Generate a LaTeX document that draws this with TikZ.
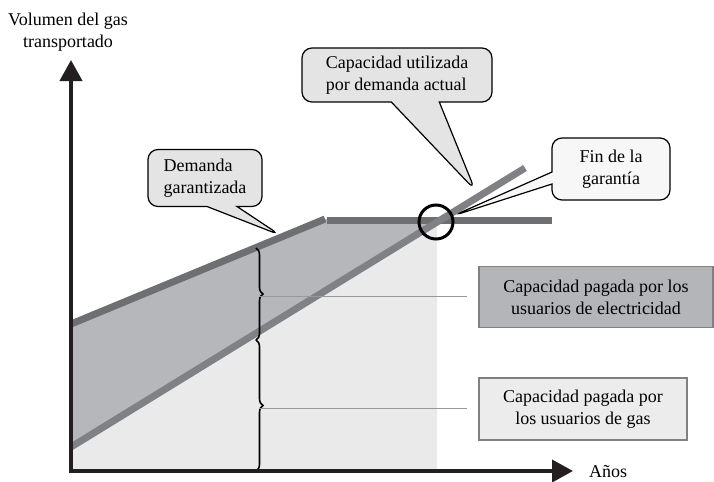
\documentclass[tikz,border=0pt]{standalone}
\usepackage{fontspec}
\setmainfont{Liberation Serif}
\usetikzlibrary{arrows.meta,shapes.callouts,decorations.pathreplacing}
\definecolor{bandgray}{RGB}{110,111,114}
\definecolor{linegray}{RGB}{128,129,133}
\definecolor{darkfill}{RGB}{182,183,186}
\definecolor{lightfill}{RGB}{233,234,233}
\definecolor{boxdark}{RGB}{180,181,184}
\definecolor{boxlight}{RGB}{236,236,236}
\definecolor{bubblefill}{RGB}{228,228,228}
\definecolor{axisblack}{RGB}{35,31,32}
\tikzset{
  txt/.style={font=\fontsize{9}{11}\selectfont, align=center},
  bubble/.style={txt, rectangle callout, draw=black, line width=0.6pt, fill=bubblefill, rounded corners=5pt, inner sep=0pt},
  legendbox/.style={txt, draw=gray, line width=0.6pt, inner sep=0pt},
  axis/.style={draw=axisblack, line width=2pt, -{Triangle[length=10.5pt,width=11pt]}},
  band/.style={line width=3.5pt, draw=bandgray},
  leader/.style={draw=gray!80, line width=0.5pt, shorten >=5.5pt},
  curly/.style={decorate, decoration={brace, amplitude=3.5pt}, line width=0.8pt},
}
\begin{document}
\begin{tikzpicture}[x=0.5pt,y=-0.5pt]
\useasboundingbox (0,0) rectangle (714,482);
\coordinate (o) at (71,471);
\coordinate (ytop) at (71,60);
\coordinate (xend) at (573,471);
\coordinate (gl) at (71,324);
\coordinate (gk) at (325,219);
\coordinate (gr) at (552,220);
\coordinate (dl) at (71,447);
\coordinate (dr) at (525,168);
\fill[lightfill] (dl) -- (437,222) -- (437,471) -- (o) -- cycle;
\fill[darkfill] (gl) -- (gk) -- (442,219) -- (dl) -- cycle;
\draw[band] (gl) -- (gk);
\draw[band] (327,220) -- (gr);
\draw[line width=3.5pt, draw=linegray] (dl) -- (dr);
\coordinate (bt) at (256,248);
\coordinate (bm) at (256,340);
\coordinate (bb) at (256,471);
\coordinate (tipA) at (259,296);
\coordinate (tipB) at (259,408);
\draw[curly] (bt) -- (bm);
\draw[curly] (bm) -- (bb);
\draw[axis] (71,473) -- (ytop);
\draw[axis] (69,471) -- (xend);
\node[circle, draw=black, line width=1.5pt, minimum size=17pt, inner sep=0pt] (cross) at (436,222) {};
\node[txt] (ylab) at (68,32) {Volumen del gas\\transportado};
\node[txt, anchor=west] (xlab) at (582,472) {Años};
\node[bubble, align=left, minimum width=57pt, minimum height=28.5pt, callout pointer width=15pt, callout absolute pointer={(280,235)}] (gar) at (205,178) {Demanda\\garantizada};
\node[bubble, align=left, minimum width=95pt, minimum height=27pt, callout pointer width=24pt, callout absolute pointer={(475,190)}] (util) at (397,75) {Capacidad utilizada\\por demanda actual};
\node[bubble, fill=white!97!black, minimum width=59pt, minimum height=31pt, callout pointer width=6pt, callout absolute pointer={(cross.20)}] (fin) at (611,169) {Fin de la\\garantía};
\node[legendbox, fill=boxdark, minimum width=117pt, minimum height=30.5pt] (elec) at (596,297) {Capacidad pagada por los\\usuarios de electricidad};
\node[legendbox, fill=boxlight, minimum width=104pt, minimum height=31pt] (gas) at (583,409) {Capacidad pagada por\\los usuarios de gas};
\draw[leader] (tipA) -- (tipA -| elec.west);
\draw[leader] (tipB) -- (tipB -| gas.west);
\end{tikzpicture}
\end{document}
